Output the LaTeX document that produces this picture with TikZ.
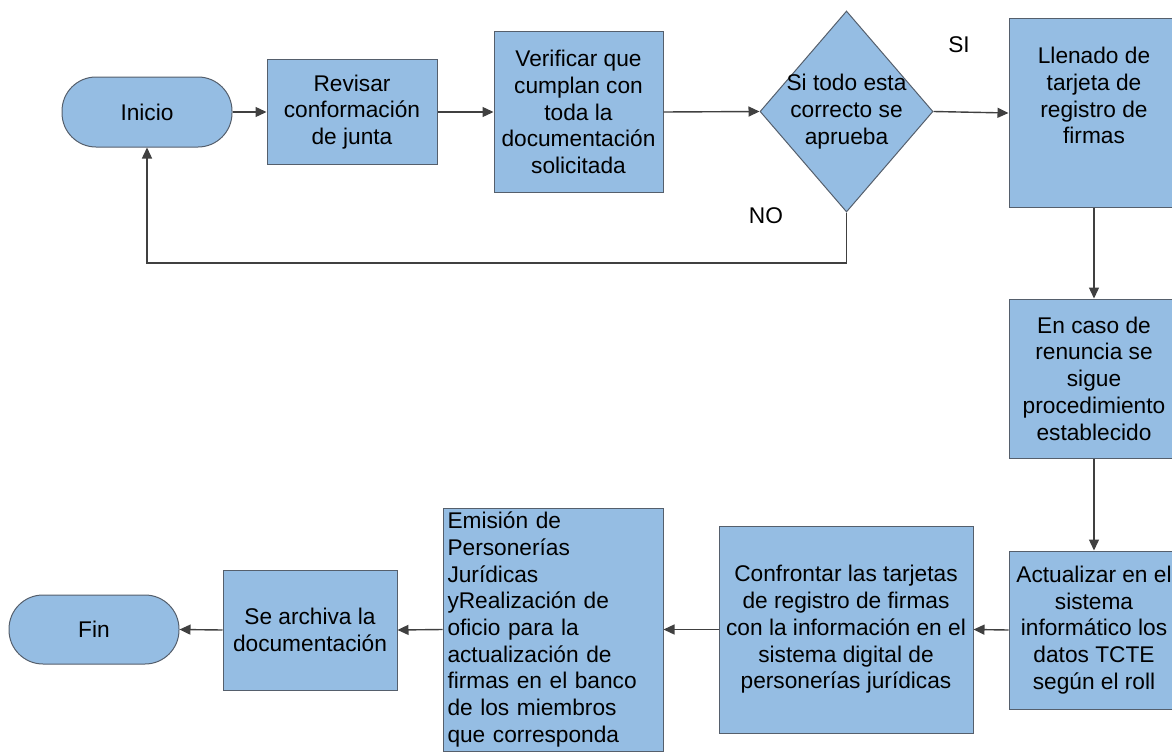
\documentclass[tikz,border=0pt]{standalone}
\usepackage{fontspec}
\setmainfont{Liberation Sans}
\usetikzlibrary{shapes.geometric,arrows.meta}
\definecolor{boxfill}{RGB}{149,189,227}
\definecolor{boxline}{RGB}{85,95,108}
\definecolor{arrline}{RGB}{64,64,64}
\begin{document}
\begin{tikzpicture}[x=1pt,y=-1pt,
  txt/.style={font=\fontsize{22.7}{26.7}\selectfont, align=center},
  base/.style={draw=boxline, line width=1pt, fill=boxfill, inner sep=0pt, txt},
  procbox/.style={base, rectangle},
  term/.style={base, rectangle, rounded corners=34pt},
  decis/.style={base, diamond},
  arr/.style={draw=arrline, line width=1.4pt, -{Triangle[length=11pt,width=10pt]}}
]
\useasboundingbox (0,0) rectangle (1172,752);

\node[term, minimum width=170pt, minimum height=70pt] (ini) at (147,112) {Inicio};
\node[procbox, minimum width=170pt, minimum height=104pt] (rev) at (352,112) {Revisar\\conformación\\de junta};
\node[procbox, minimum width=169pt, minimum height=160pt] (ver) at (578.5,112) {Verificar que\\cumplan con\\toda la\\documentación\\solicitada};
\node[decis, minimum width=173pt, minimum height=201pt,
  label={[txt]center:Si todo esta\\correcto se\\aprueba}] (dia) at (846.5,111.5) {};
\node[procbox, minimum width=170pt, minimum height=188pt] (llen) at (1094,113) {Llenado de\\tarjeta de\\registro de\\firmas\\\strut};
\node[procbox, minimum width=170pt, minimum height=159pt] (enc) at (1094,378.5) {En caso de\\renuncia se\\sigue\\procedimiento\\establecido};
\node[procbox, minimum width=170pt, minimum height=158pt] (act) at (1094,630) {Actualizar en el\\sistema\\informático los\\datos TCTE\\según el roll};
\node[procbox, minimum width=254pt, minimum height=207pt] (conf) at (846,629.5) {Confrontar las tarjetas\\de registro de firmas\\con la información en el\\sistema digital de\\personerías jurídicas};
\node[procbox, align=left, text width=211pt, inner xsep=4.5pt, minimum height=243pt] (emi) at (553,629.5) {Emisión de\\Personerías\\Jurídicas\\yRealización de\\oficio para la\\actualización de\\firmas en el banco\\de los miembros\\que corresponda};
\node[procbox, minimum width=174pt, minimum height=120pt] (arc) at (310,630) {Se archiva la\\documentación};
\node[term, minimum width=170pt, minimum height=69pt] (fin) at (94,629.5) {Fin};

\node[txt] (si) at (959,45) {SI};
\node[txt] (no) at (766,216) {NO};

\draw[arr] (ini.east) -- (rev.west);
\draw[arr] (rev.east) -- (ver.west);
\draw[arr] (ver.east) -- (dia.west);
\draw[arr] (dia.east) -- (llen.west);
\draw[arr] (dia.south) -- ++(0,50.5) -| (ini.south);
\draw[arr] (llen.south) -- (enc.north);
\draw[arr] (enc.south) -- (act.north);
\draw[arr] (act.west) -- (conf.east);
\draw[arr] (conf.west) -- (emi.east);
\draw[arr] (emi.west) -- (arc.east);
\draw[arr] (arc.west) -- (fin.east);
\end{tikzpicture}
\end{document}
